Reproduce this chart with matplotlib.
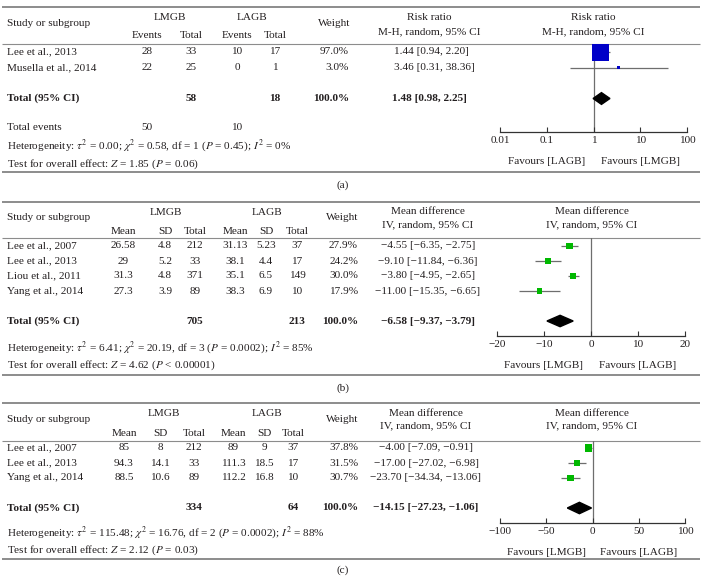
import matplotlib
matplotlib.use('Agg')
import matplotlib.pyplot as plt
from matplotlib.ticker import NullLocator
import numpy as np

plt.rcParams['font.family'] = ['Liberation Serif', 'DejaVu Serif']
plt.rcParams['mathtext.fontset'] = 'stix'

W, H = 702, 585
FS = 8.1
TXT = '#231f20'
RULE = '#8c8c8c'
CI_GREY = '#6e6e6e'
BLUE = '#0000c8'
GREEN = '#00b800'

# (a) risk ratio
a_studies = ['Lee et al., 2013', 'Musella et al., 2014']
a_ev1 = [28, 22]
a_n1 = [33, 25]
a_ev2 = [10, 0]
a_n2 = [17, 1]
a_weight = [97.0, 3.0]
a_est = [1.44, 3.46]
a_lo = [0.94, 0.31]
a_hi = [2.20, 38.36]
a_total = [1.48, 0.98, 2.25]
a_het = r'Heterogeneity: $\tau^2$ = 0.00; $\chi^2$ = 0.58, df = 1 ($P$ = 0.45); $I^2$ = 0%'
a_test = r'Test for overall effect: $Z$ = 1.85 ($P$ = 0.06)'

# (b) mean difference
b_studies = ['Lee et al., 2007', 'Lee et al., 2013', 'Liou et al., 2011', 'Yang et al., 2014']
b_m1 = ['26.58', '29', '31.3', '27.3']
b_sd1 = ['4.8', '5.2', '4.8', '3.9']
b_n1 = [212, 33, 371, 89]
b_m2 = ['31.13', '38.1', '35.1', '38.3']
b_sd2 = ['5.23', '4.4', '6.5', '6.9']
b_n2 = [37, 17, 149, 10]
b_weight = [27.9, 24.2, 30.0, 17.9]
b_est = [-4.55, -9.10, -3.80, -11.00]
b_lo = [-6.35, -11.84, -4.95, -15.35]
b_hi = [-2.75, -6.36, -2.65, -6.65]
b_total = [-6.58, -9.37, -3.79]
b_het = r'Heterogeneity: $\tau^2$ = 6.41; $\chi^2$ = 20.19, df = 3 ($P$ = 0.0002); $I^2$ = 85%'
b_test = r'Test for overall effect: $Z$ = 4.62 ($P$ < 0.00001)'

# (c) mean difference
c_studies = ['Lee et al., 2007', 'Lee et al., 2013', 'Yang et al., 2014']
c_m1 = ['85', '94.3', '88.5']
c_sd1 = ['8', '14.1', '10.6']
c_n1 = [212, 33, 89]
c_m2 = ['89', '111.3', '112.2']
c_sd2 = ['9', '18.5', '16.8']
c_n2 = [37, 17, 10]
c_weight = [37.8, 31.5, 30.7]
c_est = [-4.00, -17.00, -23.70]
c_lo = [-7.09, -27.02, -34.34]
c_hi = [-0.91, -6.98, -13.06]
c_total = [-14.15, -27.23, -1.06]
c_het = r'Heterogeneity: $\tau^2$ = 115.48; $\chi^2$ = 16.76, df = 2 ($P$ = 0.0002); $I^2$ = 88%'
c_test = r'Test for overall effect: $Z$ = 2.12 ($P$ = 0.03)'


def num(v):
    return '{:.2f}'.format(v).replace('-', '\u2212')


def ci_text(e, l, h):
    return '{} [{}, {}]'.format(num(e), num(l), num(h))


fig = plt.figure(figsize=(W / 100, H / 100), dpi=100)
bg = fig.add_axes([0, 0, 1, 1])
bg.set_xlim(0, W)
bg.set_ylim(H, 0)
bg.axis('off')


def txt(x, y, s, ha='center', bold=False):
    bg.text(x, y, s, ha=ha, va='center', fontsize=FS, color=TXT,
            fontweight='bold' if bold else 'normal')


def rules(top, head, bottom):
    bg.hlines([top, bottom], 2, 700, color=RULE, lw=1.4)
    bg.hlines(head, 2, 700, color=RULE, lw=0.8)


def forest(x0, x1, head, axis_y, first, step, est, lo, hi, w, total, tot_i,
           xlim, ticks, labels, null, color, k, fav, fav_x, log=False):
    ax = fig.add_axes([x0 / W, 1 - axis_y / H, (x1 - x0) / W, (axis_y - head) / H])
    ax.set_facecolor('none')
    if log:
        ax.set_xscale('log')
    ax.set_xlim(*xlim)
    ax.set_ylim((axis_y - first) / step, (head - first) / step)
    rows = np.arange(len(est))
    ax.hlines(rows, lo, hi, color=CI_GREY, lw=0.9, zorder=2)
    side = k * np.sqrt(np.array(w)) * 0.72
    ax.scatter(est, rows, marker='s', s=side ** 2, color=color, linewidths=0, zorder=3)
    ax.axvline(null, color=CI_GREY, lw=0.9, zorder=1)
    t, tl, th = total
    ax.fill([tl, t, th, t], [tot_i, tot_i - 0.38, tot_i, tot_i + 0.38], color='black', zorder=3)
    for s in ['left', 'right', 'top']:
        ax.spines[s].set_visible(False)
    ax.spines['bottom'].set_color('#333333')
    ax.spines['bottom'].set_linewidth(0.9)
    ax.set_yticks([])
    ax.set_xticks(ticks)
    ax.set_xticklabels(labels)
    ax.xaxis.set_minor_locator(NullLocator())
    ax.tick_params(axis='x', direction='in', length=3.5, width=0.8, color='#333333',
                   pad=3, labelsize=FS, labelcolor=TXT)
    for s, x in zip(fav, fav_x):
        ax.annotate(s, (x, 0), xycoords=('data', 'axes fraction'), xytext=(0, -21),
                    textcoords='offset points', ha='center', va='center',
                    fontsize=FS, color=TXT)
    return ax


# ---------------- panel (a)
rules(7, 44, 172)
txt(7, 23, 'Study or subgroup', ha='left')
txt(170, 17, 'LMGB')
txt(252, 17, 'LAGB')
for x, s in zip([147, 191, 237, 275], ['Events', 'Total', 'Events', 'Total']):
    txt(x, 36, s)
txt(334, 23, 'Weight')
for x in [429, 593]:
    txt(x, 17, 'Risk ratio')
    txt(x, 32, 'M-H, random, 95% CI')
ys = 52 + 15.5 * np.arange(len(a_studies))
for i, y in enumerate(ys):
    txt(7, y, a_studies[i], ha='left')
    for x, v in zip([147, 191, 237, 275], [a_ev1[i], a_n1[i], a_ev2[i], a_n2[i]]):
        txt(x, y, str(v))
    txt(349, y, '{:.1f}%'.format(a_weight[i]), ha='right')
    txt(394, y, ci_text(a_est[i], a_lo[i], a_hi[i]), ha='left')
yt = 52 + 15.5 * 3
txt(7, yt, 'Total (95% CI)', ha='left', bold=True)
txt(191, yt, str(sum(a_n1)), bold=True)
txt(275, yt, str(sum(a_n2)), bold=True)
txt(349, yt, '{:.1f}%'.format(sum(a_weight)), ha='right', bold=True)
txt(392, yt, ci_text(*a_total), ha='left', bold=True)
txt(7, 127, 'Total events', ha='left')
txt(147, 127, str(sum(a_ev1)))
txt(237, 127, str(sum(a_ev2)))
txt(7, 146, a_het, ha='left')
txt(7, 164, a_test, ha='left')
txt(343, 185, '(a)')
forest(500, 687, 44, 132, 52, 15.5, a_est, a_lo, a_hi, a_weight, a_total, 3,
       (0.01, 100), [0.01, 0.1, 1, 10, 100], ['0.01', '0.1', '1', '10', '100'],
       1, BLUE, 1.73, ['Favours [LAGB]', 'Favours [LMGB]'], [0.1, 10], log=True)


# ---------------- panels (b) and (c)
def md_panel(top, head, bottom, first, tot_i, studies, m1, sd1, n1, m2, sd2, n2,
             weight, est, lo, hi, total, het, test, het_y, tag, tag_y,
             col_x, grp_x, wx, ex, px, xlim, ticks, k):
    rules(top, head, bottom)
    y0 = top + 16
    txt(7, y0, 'Study or subgroup', ha='left')
    txt(grp_x[0], y0 - 5.5, 'LMGB')
    txt(grp_x[1], y0 - 5.5, 'LAGB')
    for x, s in zip(col_x, ['Mean', 'SD', 'Total'] * 2):
        txt(x, y0 + 14, s)
    txt(wx - 16, y0, 'Weight')
    for x in [ex, px[2]]:
        txt(x, y0 - 6, 'Mean difference')
        txt(x, y0 + 7, 'IV, random, 95% CI')
    for i in range(len(studies)):
        y = first + 15 * i
        txt(7, y, studies[i], ha='left')
        for x, v in zip(col_x, [m1[i], sd1[i], n1[i], m2[i], sd2[i], n2[i]]):
            txt(x, y, str(v))
        txt(wx, y, '{:.1f}%'.format(weight[i]), ha='right')
        txt(ex, y, ci_text(est[i], lo[i], hi[i]))
    yt = first + 15 * tot_i
    txt(7, yt, 'Total (95% CI)', ha='left', bold=True)
    txt(col_x[2], yt, str(sum(n1)), bold=True)
    txt(col_x[5], yt, str(sum(n2)), bold=True)
    txt(wx, yt, '{:.1f}%'.format(sum(weight)), ha='right', bold=True)
    txt(ex, yt, ci_text(*total), bold=True)
    txt(7, het_y, het, ha='left')
    txt(7, het_y + 17, test, ha='left')
    txt(343, tag_y, tag)
    labels = [num(t).replace('.00', '') for t in ticks]
    mid = [(ticks[0] + ticks[2]) / 2, (ticks[2] + ticks[4]) / 2]
    forest(px[0], px[1], head, px[3], first, 15, est, lo, hi, weight, total, tot_i,
           xlim, ticks, labels, 0, GREEN, k, ['Favours [LMGB]', 'Favours [LAGB]'], mid)


md_panel(202, 238, 375, 246, 5, b_studies, b_m1, b_sd1, b_n1, b_m2, b_sd2, b_n2,
         b_weight, b_est, b_lo, b_hi, b_total, b_het, b_test, 348, '(b)', 388,
         [123, 165, 195, 235, 266, 297], [166, 267], 358, 428,
         [497, 685, 592, 336], (-20, 20), [-20, -10, 0, 10, 20], 1.2)

md_panel(403, 441, 559, 448, 4, c_studies, c_m1, c_sd1, c_n1, c_m2, c_sd2, c_n2,
         c_weight, c_est, c_lo, c_hi, c_total, c_het, c_test, 533, '(c)', 570,
         [124, 160, 194, 233, 264, 293], [164, 267], 358, 426,
         [500, 685, 592, 523], (-100, 100), [-100, -50, 0, 50, 100], 1.15)

fig.savefig('out.png', dpi=100)
